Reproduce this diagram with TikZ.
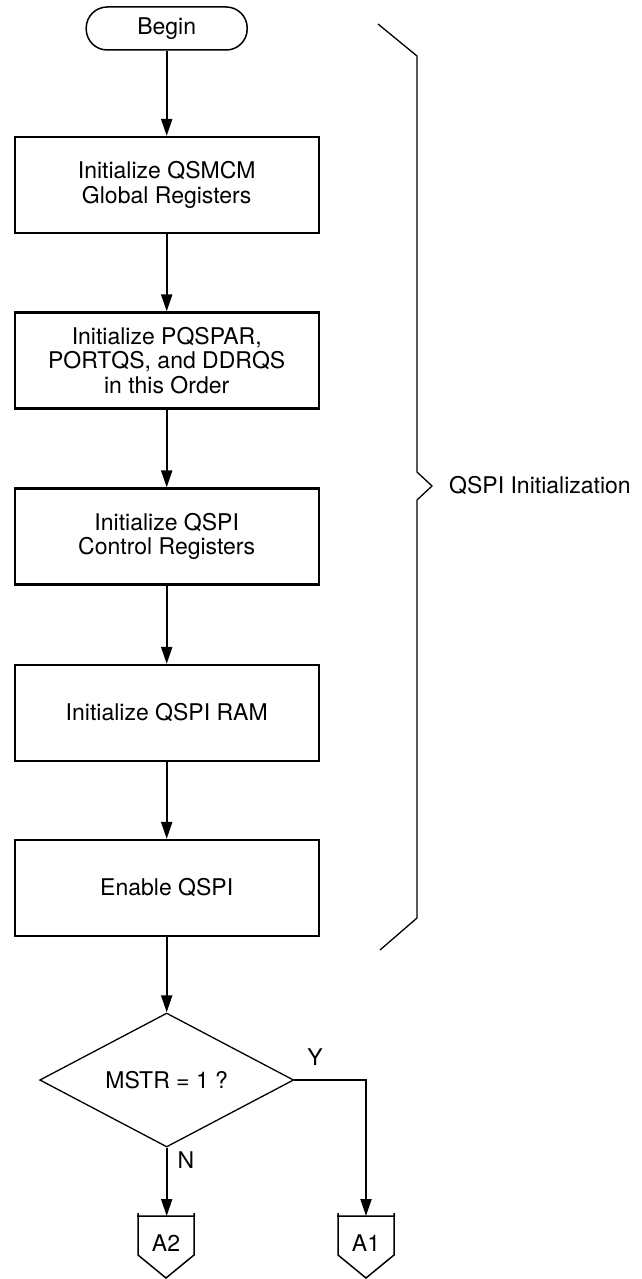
\documentclass[tikz,border=0pt]{standalone}
\usepackage{fontspec}
\setmainfont{TeX Gyre Heros}
\usetikzlibrary{arrows.meta,shapes.geometric}
\begin{document}
\begin{tikzpicture}[x=1pt,y=-1pt,
  txt/.style={font=\fontsize{23}{24.5}\selectfont},
  box/.style={txt,draw,line width=2.2pt,minimum width=304pt,minimum height=96pt,align=center,inner sep=0pt},
  term/.style={txt,draw,line width=1.5pt,rounded corners=21pt,minimum width=161pt,minimum height=43pt,inner sep=0pt},
  dec/.style={txt,draw,line width=1.3pt,diamond,aspect=1.9,minimum width=254pt,minimum height=134pt,inner sep=0pt},
  arr/.style={line width=2pt,-{Triangle[length=17pt,width=11pt]}},
  thin/.style={line width=1.3pt},
  conn/.style={line width=1.5pt,line join=miter}]
\useasboundingbox (0,0) rectangle (641,1279);
\node[term] (begin) at (166.7,28.5) {Begin};
\node[box] (b1) at (166.7,185) {Initialize QSMCM\\Global Registers};
\node[box] (b2) at (166.7,360.5) {Initialize PQSPAR,\\PORTQS, and DDRQS\\in this Order};
\node[box] (b3) at (166.7,536.5) {Initialize QSPI\\Control Registers};
\node[box] (b4) at (166.7,713) {Initialize QSPI RAM};
\node[box] (b5) at (166.7,888) {Enable QSPI};
\node[dec] (d) at (166.7,1080) {MSTR = 1 ?};
% off-page connectors
\draw[conn] (137,1216) -- (195,1216) (138,1213) -- (138,1255) -- (166,1278) -- (194,1255) -- (194,1213);
\draw[conn] (337,1216) -- (395,1216) (338,1213) -- (338,1255) -- (366,1278) -- (394,1255) -- (394,1213);
\coordinate (a2top) at (166.7,1216);
\coordinate (a1top) at (366,1216);
\node[txt] (a2) at (166,1243) {A2};
\node[txt] (a1) at (366,1243) {A1};
% connectors
\draw[arr] (begin) -- (b1);
\draw[arr] (b1) -- (b2);
\draw[arr] (b2) -- (b3);
\draw[arr] (b3) -- (b4);
\draw[arr] (b4) -- (b5);
\draw[arr] (b5) -- (d);
\draw[arr] (d.south) -- (a2top);
\draw[arr] (d.east) -| (a1top);
\node[txt] (ylab) at (315,1057) {Y};
\node[txt] (nlab) at (186,1160) {N};
% brace
\coordinate (br1) at (378,24);
\coordinate (br2) at (417,56);
\coordinate (br3) at (417,472);
\coordinate (br4) at (432,486);
\coordinate (br5) at (417,500);
\coordinate (br6) at (417,918);
\coordinate (br7) at (380,950);
\draw[thin,line join=miter] (br1) -- (br2) -- (br3) -- (br4) -- (br5) -- (br6) -- (br7);
\node[txt,anchor=west,inner sep=0pt] (qlab) at (449,486) {QSPI Initialization};
\end{tikzpicture}
\end{document}
